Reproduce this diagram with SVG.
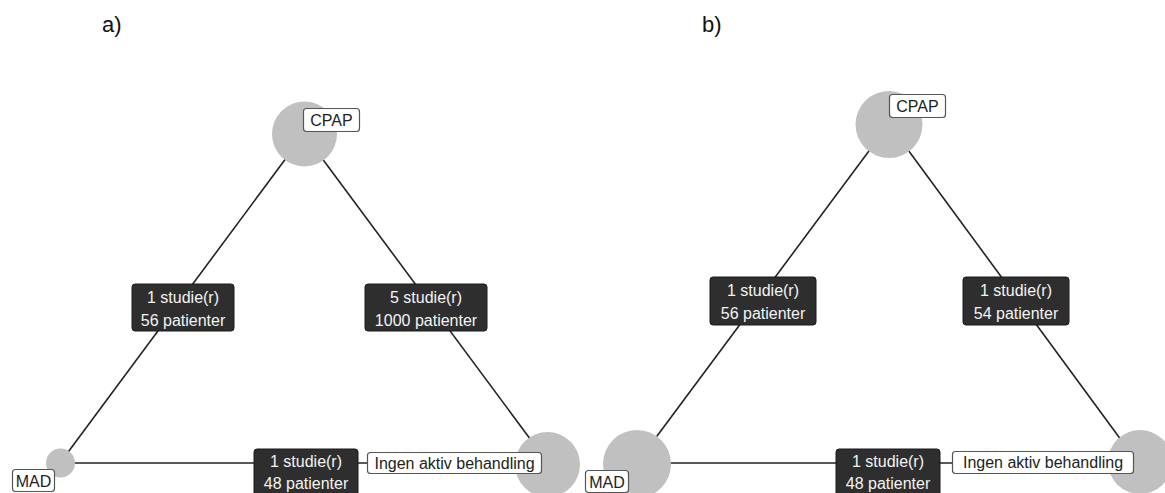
<svg xmlns="http://www.w3.org/2000/svg" width="1165" height="493" viewBox="0 0 1165 493">
<style>
.edge{stroke:#222;stroke-width:1.6;fill:none}
.node{fill:#c0c0c0}
.lbl{fill:#fff;stroke:#555;stroke-width:1.2}
.lt{font-family:"Liberation Sans",Arial,sans-serif;font-size:16px;fill:#222;text-anchor:middle}
.eb{fill:#2e2e2e;stroke:#1a1a1a;stroke-width:1}
.et{font-family:"Liberation Sans",Arial,sans-serif;font-size:16px;fill:#f4f4f4;text-anchor:middle}
.pl{font-family:"Liberation Sans",Arial,sans-serif;font-size:22px;fill:#111}
</style>
<rect width="1165" height="493" fill="#fff"/>
<text class="pl" x="102" y="32">a)</text>
<text class="pl" x="702" y="32">b)</text>
<g id="connectors">
<line class="edge" x1="304" y1="134" x2="60" y2="463"/>
<line class="edge" x1="304" y1="134" x2="548" y2="463"/>
<line class="edge" x1="60" y1="463" x2="548" y2="463"/>
<line class="edge" x1="889" y1="124" x2="637" y2="463"/>
<line class="edge" x1="889" y1="124" x2="1138" y2="463"/>
<line class="edge" x1="637" y1="463" x2="1138" y2="463"/>
</g>
<g id="a-nodes">
<g id="a-cpap"><circle class="node" cx="304.5" cy="134" r="32.5"/><rect class="lbl" x="303.5" y="108.5" width="56" height="23" rx="3"/><text class="lt" x="331.5" y="126">CPAP</text></g>
<g id="a-mad"><circle class="node" cx="60.5" cy="463" r="14.5"/><rect class="lbl" x="12.5" y="469.5" width="42" height="22" rx="3"/><text class="lt" x="33.5" y="487">MAD</text></g>
<g id="a-ingen"><circle class="node" cx="547.5" cy="464.5" r="32.5"/><rect class="lbl" x="367.5" y="452.5" width="174" height="21" rx="3"/><text class="lt" x="454.5" y="469">Ingen aktiv behandling</text></g>
</g>
<g id="a-edge-labels">
<g id="a-e1"><rect class="eb" x="132" y="284" width="102" height="47" rx="3"/><text class="et" x="183" y="303">1 studie(r)</text><text class="et" x="183" y="326">56 patienter</text></g>
<g id="a-e2"><rect class="eb" x="365" y="284" width="122" height="47" rx="3"/><text class="et" x="426" y="303">5 studie(r)</text><text class="et" x="426" y="326">1000 patienter</text></g>
<g id="a-e3"><rect class="eb" x="254" y="449" width="104" height="48" rx="3"/><text class="et" x="306" y="467">1 studie(r)</text><text class="et" x="306" y="489">48 patienter</text></g>
</g>
<g id="b-nodes">
<g id="b-cpap"><circle class="node" cx="889" cy="124.5" r="33.5"/><rect class="lbl" x="889.5" y="94.5" width="56" height="23" rx="3"/><text class="lt" x="917.5" y="112">CPAP</text></g>
<g id="b-mad"><circle class="node" cx="637" cy="464" r="34"/><rect class="lbl" x="585.5" y="470.5" width="43" height="22" rx="3"/><text class="lt" x="607" y="488">MAD</text></g>
<g id="b-ingen"><circle class="node" cx="1140" cy="462" r="32"/><rect class="lbl" x="952.5" y="451.5" width="181" height="22" rx="3"/><text class="lt" x="1043" y="468">Ingen aktiv behandling</text></g>
</g>
<g id="b-edge-labels">
<g id="b-e1"><rect class="eb" x="710" y="277" width="106" height="48" rx="3"/><text class="et" x="763" y="296">1 studie(r)</text><text class="et" x="763" y="319">56 patienter</text></g>
<g id="b-e2"><rect class="eb" x="963" y="277" width="106" height="48" rx="3"/><text class="et" x="1016" y="296">1 studie(r)</text><text class="et" x="1016" y="319">54 patienter</text></g>
<g id="b-e3"><rect class="eb" x="836" y="449" width="104" height="48" rx="3"/><text class="et" x="888" y="467">1 studie(r)</text><text class="et" x="888" y="489">48 patienter</text></g>
</g>
</svg>
